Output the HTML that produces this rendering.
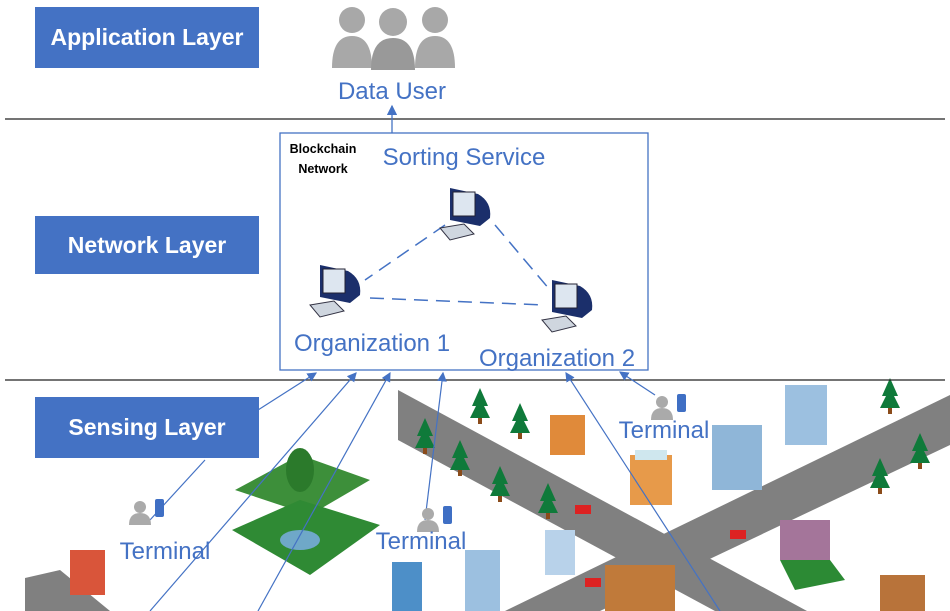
<!DOCTYPE html>
<html><head><meta charset="utf-8"><style>
html,body{margin:0;padding:0;background:#fff;width:950px;height:611px;overflow:hidden;font-family:"Liberation Sans",sans-serif}
svg{display:block}
</style></head><body>
<svg width="950" height="611" viewBox="0 0 950 611" xmlns="http://www.w3.org/2000/svg" font-family="Liberation Sans, sans-serif">
<defs>
<g id="tree"><polygon points="0,-22 -8,-4 -4,-4 -10,8 10,8 4,-4 8,-4" fill="#0f7a3a"/><rect x="-2" y="8" width="4" height="6" fill="#8a4b1a"/></g>
<g id="pc"><path d="M0,0 L28,6 Q42,14 40,30 L30,38 L0,32 Z" fill="#1b2f6b"/><rect x="3" y="4" width="22" height="24" fill="#dde6f0" stroke="#223" /><polygon points="-10,40 14,36 24,46 0,52" fill="#cfd6df" stroke="#334"/></g>
<g id="term"><circle cx="0" cy="-8" r="6" fill="#aaa"/><path d="M-11,10 Q-11,-2 0,-2 Q11,-2 11,10 Z" fill="#aaa"/><rect x="15" y="-16" width="9" height="18" rx="2" fill="#3f6fc4"/></g>
<marker id="ar" markerWidth="8" markerHeight="8" refX="7" refY="4" orient="auto"><path d="M0,0 L8,4 L0,8Z" fill="#4472c4"/></marker>
</defs>
<polygon points="398,390 807,611 715,611 398,440" fill="#808080"/>
<polygon points="950,395 950,445 600,611 505,611" fill="#808080"/>
<polygon points="25,578 60,570 110,611 25,611" fill="#808080"/>
<polygon points="235,490 300,455 370,480 310,515" fill="#3d8f3a"/>
<polygon points="232,530 300,500 380,525 310,575" fill="#2f8a34"/>
<ellipse cx="300" cy="540" rx="20" ry="10" fill="#6fa8c8"/>
<ellipse cx="300" cy="470" rx="14" ry="22" fill="#2b7a2b"/>
<use href="#tree" x="480" y="410"/><use href="#tree" x="520" y="425"/><use href="#tree" x="425" y="440"/><use href="#tree" x="460" y="462"/>
<use href="#tree" x="500" y="488"/><use href="#tree" x="548" y="505"/><use href="#tree" x="890" y="400"/><use href="#tree" x="880" y="480"/><use href="#tree" x="920" y="455"/>
<rect x="550" y="415" width="35" height="40" fill="#e08a3a"/>
<rect x="630" y="455" width="42" height="50" fill="#e79a4a"/><rect x="635" y="450" width="32" height="10" fill="#cfe7ee"/>
<rect x="712" y="425" width="50" height="65" fill="#8fb6d8"/>
<rect x="785" y="385" width="42" height="60" fill="#9cc0e0"/>
<rect x="545" y="530" width="30" height="45" fill="#b8d2ea"/>
<rect x="465" y="550" width="35" height="61" fill="#9cc0e0"/>
<rect x="392" y="562" width="30" height="49" fill="#4d8fc8"/>
<rect x="780" y="520" width="50" height="40" fill="#a4759a"/><polygon points="780,560 830,560 845,580 795,590" fill="#2c8a34"/>
<rect x="605" y="565" width="70" height="46" fill="#c07a3a"/>
<rect x="880" y="575" width="45" height="36" fill="#b8733a"/>
<rect x="70" y="550" width="35" height="45" fill="#d9553a"/>
<rect x="575" y="505" width="16" height="9" fill="#d22"/><rect x="730" y="530" width="16" height="9" fill="#d22"/><rect x="585" y="578" width="16" height="9" fill="#d22"/>
<line x1="5" y1="119" x2="945" y2="119" stroke="#222" stroke-width="1.3"/>
<line x1="5" y1="380" x2="945" y2="380" stroke="#222" stroke-width="1.3"/>
<rect x="35" y="7" width="224" height="61" fill="#4472c4"/><text x="147" y="45" fill="#fff" font-size="23" font-weight="bold" text-anchor="middle">Application Layer</text>
<rect x="35" y="216" width="224" height="58" fill="#4472c4"/><text x="147" y="253" fill="#fff" font-size="23" font-weight="bold" text-anchor="middle">Network Layer</text>
<rect x="35" y="397" width="224" height="61" fill="#4472c4"/><text x="147" y="435" fill="#fff" font-size="23" font-weight="bold" text-anchor="middle">Sensing Layer</text>
<g fill="#a8a8a8">
<circle cx="352" cy="20" r="13"/><path d="M332,68 Q332,36 352,36 Q372,36 372,68Z"/>
<circle cx="435" cy="20" r="13"/><path d="M415,68 Q415,36 435,36 Q455,36 455,68Z"/>
<circle cx="393" cy="22" r="14"/><path d="M371,70 Q371,38 393,38 Q415,38 415,70Z" fill="#999"/>
</g>
<text x="392" y="99" fill="#4472c4" font-size="24" text-anchor="middle">Data User</text>
<line x1="392" y1="133" x2="392" y2="106" stroke="#4472c4" stroke-width="1.3" marker-end="url(#ar)"/>
<rect x="280" y="133" width="368" height="237" fill="none" stroke="#4472c4" stroke-width="1.3"/>
<text x="323" y="153" font-size="12.5" font-weight="bold" text-anchor="middle">Blockchain</text>
<text x="323" y="173" font-size="12.5" font-weight="bold" text-anchor="middle">Network</text>
<text x="464" y="165" fill="#4472c4" font-size="24" text-anchor="middle">Sorting Service</text>
<g stroke="#4472c4" stroke-width="1.5" stroke-dasharray="14,8" fill="none">
<line x1="445" y1="225" x2="365" y2="280"/><line x1="495" y1="225" x2="550" y2="290"/><line x1="370" y1="298" x2="545" y2="305"/>
</g>
<use href="#pc" x="450" y="188"/><use href="#pc" x="320" y="265"/><use href="#pc" x="552" y="280"/>
<text x="372" y="351" fill="#4472c4" font-size="24" text-anchor="middle">Organization 1</text>
<text x="557" y="366" fill="#4472c4" font-size="24" text-anchor="middle">Organization 2</text>
<g stroke="#4472c4" stroke-width="1.2" fill="none">
<line x1="258" y1="410" x2="316" y2="373" marker-end="url(#ar)"/><line x1="205" y1="460" x2="150" y2="520"/>
<line x1="150" y1="611" x2="356" y2="373" marker-end="url(#ar)"/><line x1="258" y1="611" x2="390" y2="373" marker-end="url(#ar)"/>
<line x1="425" y1="520" x2="443" y2="373" marker-end="url(#ar)"/><line x1="720" y1="611" x2="566" y2="373" marker-end="url(#ar)"/>
<line x1="655" y1="395" x2="620" y2="372" marker-end="url(#ar)"/>
</g>
<use href="#term" x="140" y="515"/><use href="#term" x="428" y="522"/><use href="#term" x="662" y="410"/>
<text x="165" y="559" fill="#4472c4" font-size="24" text-anchor="middle">Terminal</text>
<text x="421" y="549" fill="#4472c4" font-size="24" text-anchor="middle">Terminal</text>
<text x="664" y="438" fill="#4472c4" font-size="24" text-anchor="middle">Terminal</text>
</svg>
</body></html>
